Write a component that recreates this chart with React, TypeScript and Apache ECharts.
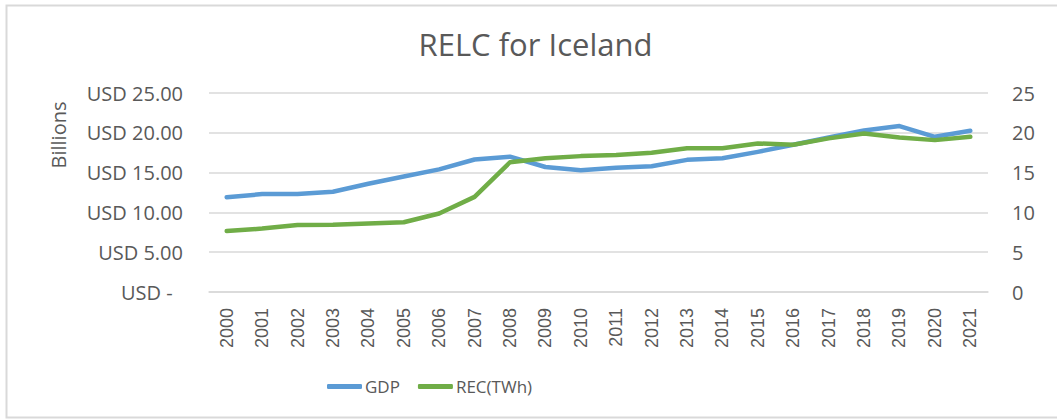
import React, { useEffect, useRef } from "react";
import * as echarts from "echarts";

const years = ["2000","2001","2002","2003","2004","2005","2006","2007","2008","2009","2010","2011","2012","2013","2014","2015","2016","2017","2018","2019","2020","2021"];
const gdp = [11.9, 12.3, 12.3, 12.6, 13.6, 14.5, 15.4, 16.65, 17.0, 15.7, 15.3, 15.6, 15.8, 16.6, 16.8, 17.6, 18.5, 19.4, 20.3, 20.85, 19.5, 20.25];
const rec = [7.65, 7.97, 8.43, 8.45, 8.6, 8.77, 9.86, 11.95, 16.3, 16.8, 17.07, 17.2, 17.5, 18.07, 18.07, 18.66, 18.5, 19.3, 19.9, 19.4, 19.08, 19.5];
const seriesNames = ["GDP", "REC(TWh)"];
const titleText = "RELC for Iceland";
const leftAxisName = "Billions";

export default function App() {
  const ref = useRef<HTMLDivElement>(null);
  useEffect(() => {
    if (!ref.current) return;
    const chart = echarts.init(ref.current, null, { renderer: "svg" });
    const grey = "#595959";
    const font = "'Open Sans', 'Noto Sans', sans-serif";
    chart.setOption({
      animation: false,
      textStyle: { fontFamily: font, color: grey },
      graphic: [
        {
          type: "rect",
          shape: { x: 6.5, y: 5.5, width: 1100, height: 412 },
          style: { fill: "none", stroke: "#d9d9d9", lineWidth: 2 },
          silent: true,
        },
        {
          type: "text",
          x: 535.5,
          y: 44,
          style: {
            text: titleText,
            fontSize: 31,
            fontFamily: font,
            fill: grey,
            align: "center",
            verticalAlign: "middle",
          },
        },
        {
          type: "text",
          x: 58,
          y: 135,
          rotation: Math.PI / 2,
          style: {
            text: leftAxisName,
            fontSize: 20,
            fontFamily: font,
            fill: grey,
            align: "center",
            verticalAlign: "middle",
          },
        },
      ],
      grid: { left: 209, right: 69, top: 93, bottom: 127 },
      legend: {
        left: 322,
        top: 373,
        itemWidth: 35,
        itemHeight: 5,
        itemGap: 18,
        icon: "roundRect",
        textStyle: { fontSize: 17, color: grey, fontFamily: font, padding: [0, 0, 0, -2] },
        data: seriesNames,
      },
      xAxis: {
        type: "category",
        data: years,
        boundaryGap: true,
        axisLine: { lineStyle: { color: "#d9d9d9", width: 1.5 } },
        axisTick: { show: false },
        axisLabel: {
          rotate: 90,
          interval: 0,
          margin: 16,
          fontSize: 18,
          color: grey,
          fontFamily: "'Liberation Sans', Arial, sans-serif",
        },
      },
      yAxis: [
        {
          type: "value",
          min: 0,
          max: 25,
          interval: 5,
          axisLine: { show: false },
          axisTick: { show: false },
          splitLine: { lineStyle: { color: "#d9d9d9", width: 1.5 } },
          axisLabel: {
            margin: 26,
            fontSize: 20,
            color: grey,
            formatter: (v: number) => (v === 0 ? "USD -  " : "USD " + v.toFixed(2)),
          },
        },
        {
          type: "value",
          min: 0,
          max: 25,
          interval: 5,
          position: "right",
          axisLine: { show: false },
          axisTick: { show: false },
          splitLine: { show: false },
          axisLabel: { margin: 24, fontSize: 20, color: grey },
        },
      ],
      series: [
        {
          name: seriesNames[0],
          type: "line",
          data: gdp,
          yAxisIndex: 0,
          showSymbol: false,
          symbol: "none",
          lineStyle: { color: "#5B9BD5", width: 4.5, cap: "round", join: "round" },
          itemStyle: { color: "#5B9BD5" },
        },
        {
          name: seriesNames[1],
          type: "line",
          data: rec,
          yAxisIndex: 1,
          showSymbol: false,
          symbol: "none",
          lineStyle: { color: "#70AD47", width: 4.5, cap: "round", join: "round" },
          itemStyle: { color: "#70AD47" },
        },
      ],
    });
    return () => chart.dispose();
  }, []);
  return (
    <div
      ref={ref}
      style={{ position: "fixed", left: 0, top: 0, width: 1057, height: 419, background: "#fff" }}
    />
  );
}
